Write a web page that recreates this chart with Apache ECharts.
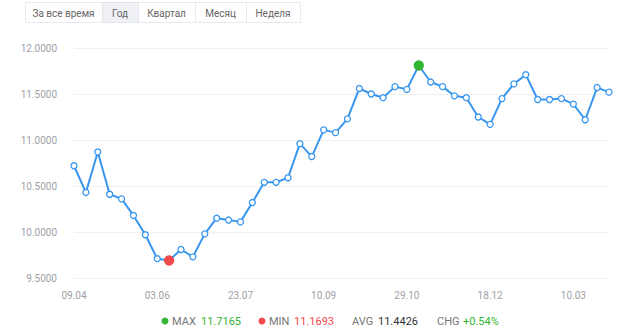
<!DOCTYPE html>
<html>
<head>
<meta charset="utf-8">
<script src="https://cdn.jsdelivr.net/npm/echarts@6/dist/echarts.min.js"></script>
<style>
html,body{margin:0;padding:0;background:#fff;}
#c{width:620px;height:332px;}
</style>
</head>
<body>
<div id="c"></div>
<script>
var periods = ['За все время', 'Год', 'Квартал', 'Месяц', 'Неделя'];
var activePeriod = 1;

var dates = [
  '09.04','16.04','23.04','30.04','07.05','14.05','21.05',
  '03.06','10.06','17.06','24.06','01.07','08.07','15.07',
  '23.07','30.07','06.08','13.08','20.08','27.08','03.09',
  '10.09','17.09','24.09','01.10','08.10','15.10','22.10',
  '29.10','05.11','12.11','19.11','26.11','03.12','10.12',
  '18.12','25.12','14.01','21.01','28.01','04.02','18.02',
  '10.03','17.03','24.03','31.03'
];
var rates = [
  10.72,10.43,10.87,10.41,10.36,10.18,9.97,
  9.71,9.69,9.81,9.73,9.98,10.15,10.13,
  10.11,10.32,10.54,10.54,10.59,10.96,10.82,
  11.11,11.08,11.23,11.56,11.50,11.46,11.58,
  11.55,11.81,11.63,11.58,11.48,11.46,11.25,
  11.17,11.45,11.61,11.71,11.44,11.44,11.45,
  11.39,11.22,11.57,11.52
];
var yMin = 9.5, yMax = 12, yStep = 0.5;

var statLabels = ['MAX', 'MIN', 'AVG', 'CHG'];
var statValues = ['11.7165', '11.1693', '11.4426', '+0.54%'];

var BLUE = '#3996ee', GREEN = '#33b533', RED = '#f24a4a';
var FONT = 'Roboto, "Open Sans", sans-serif';

var maxI = rates.indexOf(Math.max.apply(null, rates));
var minI = rates.indexOf(Math.min.apply(null, rates));
var seriesData = rates.map(function (v, i) {
  if (i === maxI) return {value: v, symbolSize: 9, itemStyle: {color: GREEN, borderColor: GREEN}};
  if (i === minI) return {value: v, symbolSize: 9, itemStyle: {color: RED, borderColor: RED}};
  return v;
});

// buttons
var btnX = [25, 102, 138, 195, 246, 300];
var graphics = [];
graphics.push({type: 'rect', shape: {x: btnX[0] + 0.5, y: 2.5, width: btnX[5] - btnX[0], height: 20},
  style: {fill: '#fff', stroke: '#e8eaef', lineWidth: 1}, silent: true});
periods.forEach(function (p, i) {
  var x0 = btnX[i], x1 = btnX[i + 1];
  if (i === activePeriod) {
    graphics.push({type: 'rect', shape: {x: x0 + 0.5, y: 2.5, width: x1 - x0, height: 20},
      style: {fill: '#eff1f6', stroke: '#e3e5ec', lineWidth: 1}});
  } else if (i > 0) {
    graphics.push({type: 'line', shape: {x1: x0 + 0.5, y1: 2.5, x2: x0 + 0.5, y2: 22.5},
      style: {stroke: '#e8eaef', lineWidth: 1}});
  }
  graphics.push({type: 'text', x: (x0 + x1) / 2, y: 13,
    style: {text: p, fill: '#666', font: '10px ' + FONT, align: 'center', verticalAlign: 'middle'}});
});

// stats legend
var legX = [172, 269, 352, 437];
var valX = [201, 294, 378, 463];
var valColors = [GREEN, RED, '#333', GREEN];
var legY = 321;
graphics.push({type: 'circle', shape: {cx: 165, cy: legY, r: 3.5}, style: {fill: GREEN}});
graphics.push({type: 'circle', shape: {cx: 262, cy: legY, r: 3.5}, style: {fill: RED}});
statLabels.forEach(function (s, i) {
  graphics.push({type: 'text', x: legX[i], y: legY,
    style: {text: s, fill: '#777', font: '11px ' + FONT, verticalAlign: 'middle'}});
  graphics.push({type: 'text', x: valX[i], y: legY,
    style: {text: statValues[i], fill: valColors[i], font: '11px ' + FONT, verticalAlign: 'middle'}});
});

var chart = echarts.init(document.getElementById('c'), null, {renderer: 'svg'});
chart.setOption({
  animation: false,
  backgroundColor: '#fff',
  grid: {left: 74, right: 11, top: 48, bottom: 54, containLabel: false},
  xAxis: {
    type: 'category',
    data: dates,
    boundaryGap: false,
    axisLine: {show: false},
    axisTick: {show: false},
    axisLabel: {interval: 6, color: '#a0a0a8', fontSize: 10, margin: 12, fontFamily: FONT},
    splitLine: {show: false}
  },
  yAxis: {
    type: 'value',
    min: yMin, max: yMax, interval: yStep,
    axisLine: {show: false},
    axisTick: {show: false},
    axisLabel: {color: '#a0a0a8', fontSize: 10, margin: 17, fontFamily: FONT,
      formatter: function (v) { return v.toFixed(4); }},
    splitLine: {lineStyle: {color: '#f0f0f2', width: 1}}
  },
  series: [{
    type: 'line',
    data: seriesData,
    symbol: 'circle',
    symbolSize: 6,
    showAllSymbol: true,
    lineStyle: {color: BLUE, width: 2},
    itemStyle: {color: '#fff', borderColor: BLUE, borderWidth: 1.3}
  }],
  graphic: graphics
});
</script>
</body>
</html>
